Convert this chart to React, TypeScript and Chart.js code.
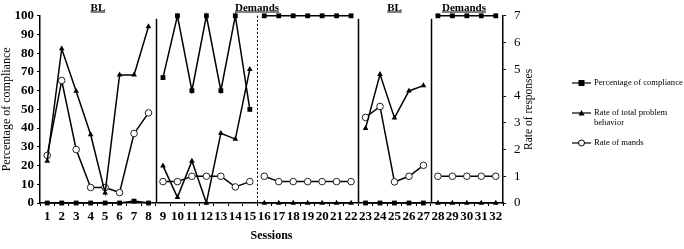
import React, { useEffect, useRef } from 'react';
import { Chart, registerables } from 'chart.js';

Chart.register(...registerables);

const sessions = ['1','2','3','4','5','6','7','8','9','10','11','12','13','14','15','16','17','18','19','20','21','22','23','24','25','26','27','28','29','30','31','32'];
const compliance = [0,0,0,0,0,0,1,0, 67,100,60,100,60,100,50, 100,100,100,100,100,100,100, 0,0,0,0,0, 100,100,100,100,100];
const problemBehavior = [1.57,5.77,4.18,2.56,0.38,4.79,4.79,6.6, 1.39,0.21,1.57,0,2.61,2.39,5.0, 0,0,0,0,0,0,0, 2.79,4.81,3.18,4.19,4.39, 0,0,0,0,0];
const mands = [1.78,4.58,2.0,0.58,0.58,0.39,2.6,3.37, 0.8,0.8,1,1,1,0.6,0.8, 1,0.8,0.8,0.8,0.8,0.8,0.8, 3.2,3.61,0.79,1.0,1.41, 1,1,1,1,1];
const leftTicks = [0,10,20,30,40,50,60,70,80,90,100];
const rightTicks = [0,1,2,3,4,5,6,7];

// phase change lines: after session number
const phaseBreaks = [8, 15, 22, 27];
const dashedBreaks = [15];
// phase labels: text and session position (fractional allowed)
const phaseLabelTexts = ['BL', 'Demands', 'BL', 'Demands'];
const phaseLabelAt = [4.5, 15.5, 25, 29.8];

const legendLabels = ['Percentage of compliance', 'Rate of total problem behavior', 'Rate of mands'];
const rightTitle = 'Rate of responses';

const FONT = "'Liberation Serif', 'Times New Roman', serif";

function drawMarker(ctx: CanvasRenderingContext2D, kind: string, x: number, y: number) {
  ctx.save();
  ctx.fillStyle = 'black';
  ctx.strokeStyle = 'black';
  ctx.lineWidth = 1;
  if (kind === 'rect') {
    ctx.fillRect(x - 3, y - 3, 6, 6);
  } else if (kind === 'triangle') {
    ctx.beginPath();
    ctx.moveTo(x, y - 3);
    ctx.lineTo(x + 3, y + 2.5);
    ctx.lineTo(x - 3, y + 2.5);
    ctx.closePath();
    ctx.fill();
  } else {
    ctx.fillStyle = 'white';
    ctx.beginPath();
    ctx.arc(x, y, 3, 0, Math.PI * 2);
    ctx.fill();
    ctx.stroke();
  }
  ctx.restore();
}

const phasePlugin = {
  id: 'phasePlugin',
  afterDatasetsDraw(chart: any) {
    const ctx = chart.ctx as CanvasRenderingContext2D;
    const x = chart.scales.x;
    const area = chart.chartArea;
    ctx.save();
    phaseBreaks.forEach((b) => {
      const px = Math.round(x.getPixelForValue(b - 0.5)) + 0.5;
      const dashed = dashedBreaks.includes(b);
      ctx.beginPath();
      ctx.strokeStyle = 'black';
      ctx.lineWidth = dashed ? 1 : 1.5;
      ctx.setLineDash(dashed ? [2, 2] : []);
      ctx.moveTo(px, dashed ? area.top : area.top + 3);
      ctx.lineTo(px, area.bottom);
      ctx.stroke();
    });
    ctx.setLineDash([]);
    ctx.font = `bold 11px ${FONT}`;
    ctx.fillStyle = 'black';
    ctx.textAlign = 'center';
    ctx.textBaseline = 'alphabetic';
    phaseLabelTexts.forEach((t, i) => {
      const px = x.getPixelForValue(phaseLabelAt[i] - 1);
      const w = ctx.measureText(t).width;
      const y = 10.5;
      ctx.fillText(t, px, y);
      ctx.beginPath();
      ctx.lineWidth = 1;
      ctx.moveTo(px - w / 2, y + 1.5);
      ctx.lineTo(px + w / 2, y + 1.5);
      ctx.stroke();
    });
    ctx.restore();
  },
  afterDraw(chart: any) {
    const ctx = chart.ctx as CanvasRenderingContext2D;
    const area = chart.chartArea;
    ctx.save();
    // right axis title, reading bottom to top
    ctx.font = `11.5px ${FONT}`;
    ctx.fillStyle = 'black';
    ctx.textAlign = 'center';
    ctx.textBaseline = 'middle';
    ctx.translate(area.right + 26, (area.top + area.bottom) / 2);
    ctx.rotate(-Math.PI / 2);
    ctx.fillText(rightTitle, 0, 0);
    ctx.restore();

    ctx.save();
    const kinds = ['rect', 'triangle', 'circle'];
    const ys = [83, 113, 143];
    ctx.font = `8.6px ${FONT}`;
    ctx.fillStyle = 'black';
    ctx.textAlign = 'left';
    ctx.textBaseline = 'middle';
    legendLabels.forEach((label, i) => {
      const y = ys[i];
      ctx.beginPath();
      ctx.strokeStyle = 'black';
      ctx.lineWidth = 1.2;
      ctx.moveTo(572, y);
      ctx.lineTo(591, y);
      ctx.stroke();
      drawMarker(ctx, kinds[i], 581.5, y);
      if (i === 1) {
        ctx.fillText('Rate of total problem', 594, y);
        ctx.fillText('behavior', 594, y + 10);
      } else {
        ctx.fillText(label, 594, y);
      }
    });
    ctx.restore();
  },
};

const segColor = (ctx: any) => (phaseBreaks.includes(ctx.p0DataIndex + 1) ? 'rgba(0,0,0,0)' : 'black');

export default function App() {
  const ref = useRef<HTMLCanvasElement>(null);
  useEffect(() => {
    if (!ref.current) return;
    const tickFont = { family: FONT, size: 13, weight: 'bold' as const };
    const chart = new Chart(ref.current, {
      type: 'line',
      data: {
        labels: sessions,
        datasets: [
          {
            label: legendLabels[0],
            data: compliance,
            yAxisID: 'y',
            borderColor: 'black',
            backgroundColor: 'black',
            borderWidth: 1.5,
            pointStyle: 'rect',
            pointRadius: 3.4,
            pointBorderWidth: 0,
            pointBackgroundColor: 'black',
            clip: false as any,
            segment: { borderColor: segColor },
          },
          {
            label: legendLabels[1],
            data: problemBehavior,
            yAxisID: 'y1',
            borderColor: 'black',
            backgroundColor: 'black',
            borderWidth: 1.5,
            pointStyle: 'triangle',
            pointRadius: 3.3,
            pointBorderWidth: 0,
            pointBackgroundColor: 'black',
            clip: false as any,
            segment: { borderColor: segColor },
          },
          {
            label: legendLabels[2],
            data: mands,
            yAxisID: 'y1',
            borderColor: 'black',
            backgroundColor: 'white',
            borderWidth: 1.5,
            pointStyle: 'circle',
            pointRadius: 3.3,
            pointBorderWidth: 1,
            pointBorderColor: '#222',
            pointBackgroundColor: 'white',
            clip: false as any,
            segment: { borderColor: segColor },
          },
        ],
      },
      options: {
        responsive: false,
        animation: false,
        layout: { padding: { left: 0, right: 142, top: 14, bottom: 0 } },
        plugins: { legend: { display: false }, tooltip: { enabled: false } },
        scales: {
          x: {
            type: 'category',
            offset: true,
            afterFit: (s: any) => { s.height = 46; },
            grid: { display: true, drawOnChartArea: false, drawTicks: true, tickLength: 3, color: 'black', offset: true },
            border: { display: true, color: 'black', width: 1.5 },
            ticks: { font: tickFont, color: 'black', maxRotation: 0, autoSkip: false, padding: 3 },
            title: { display: true, text: 'Sessions', color: 'black', font: { family: FONT, size: 12, weight: 'bold' }, padding: 6 },
          },
          y: {
            position: 'left',
            min: 0,
            max: 100,
            afterFit: (s: any) => { s.width = 40; },
            afterBuildTicks: (s: any) => { s.ticks = leftTicks.map((v) => ({ value: v })); },
            grid: { display: true, drawOnChartArea: false, tickLength: 3, color: 'black' },
            border: { display: true, color: 'black', width: 1.5 },
            ticks: { font: tickFont, color: 'black', padding: 3 },
            title: { display: true, text: 'Percentage of compliance', color: 'black', font: { family: FONT, size: 12 }, padding: 0 },
          },
          y1: {
            position: 'right',
            min: 0,
            max: 7,
            afterFit: (s: any) => { s.width = 39; },
            afterBuildTicks: (s: any) => { s.ticks = rightTicks.map((v) => ({ value: v })); },
            grid: { display: true, drawOnChartArea: false, tickLength: 3, color: 'black' },
            border: { display: true, color: 'black', width: 1.5 },
            ticks: { font: { family: FONT, size: 13 }, color: 'black', padding: 8 },
            title: { display: false },
          },
        },
      },
      plugins: [phasePlugin],
    } as any);
    return () => chart.destroy();
  }, []);
  return (
    <div style={{ position: 'absolute', left: 0, top: 0, width: 684, height: 249, background: 'white' }}>
      <canvas ref={ref} width={684} height={249} style={{ display: 'block', width: 684, height: 249 }} />
    </div>
  );
}
